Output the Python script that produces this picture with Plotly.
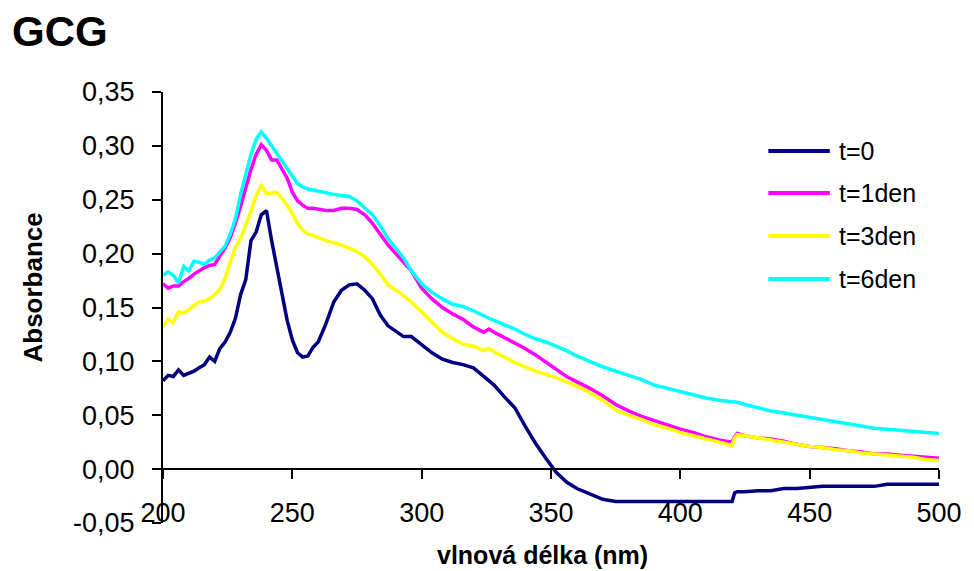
import plotly.graph_objects as go

wavelength = [200, 202, 204, 206, 208, 210, 212, 214, 216, 218, 220, 222, 224, 226, 228, 230,
              232, 234, 236, 238, 240, 242, 244, 246, 248, 250, 252, 254, 256, 258, 260, 263,
              266, 269, 272, 275, 278, 281, 284, 287, 290, 293, 296, 300, 304, 308, 312, 316,
              320, 324, 326, 328, 332, 336, 340, 344, 348, 352, 356, 360, 365, 370, 375, 380,
              385, 390, 395, 400, 405, 410, 415, 419, 420, 421, 422, 425, 430, 435, 440, 445,
              450, 455, 460, 465, 470, 475, 480, 485, 490, 495, 500]

t0 = [0.082, 0.087, 0.086, 0.092, 0.087, 0.089, 0.091, 0.094, 0.097, 0.104, 0.100, 0.112, 0.118, 0.127, 0.140, 0.162,
      0.176, 0.212, 0.220, 0.236, 0.240, 0.212, 0.188, 0.165, 0.138, 0.120, 0.108, 0.104, 0.105, 0.113, 0.118, 0.135,
      0.155, 0.166, 0.171, 0.172, 0.166, 0.158, 0.143, 0.133, 0.128, 0.123, 0.123, 0.116, 0.108, 0.102, 0.099, 0.097,
      0.094, 0.086, 0.082, 0.078, 0.067, 0.057, 0.040, 0.024, 0.010, -0.003, -0.012, -0.018, -0.023, -0.028, -0.030, -0.030,
      -0.030, -0.030, -0.030, -0.030, -0.030, -0.030, -0.030, -0.030, -0.030, -0.022, -0.021, -0.021, -0.020, -0.020, -0.018, -0.018,
      -0.017, -0.016, -0.016, -0.016, -0.016, -0.016, -0.014, -0.014, -0.014, -0.014, -0.014]

t1 = [0.172, 0.168, 0.170, 0.170, 0.174, 0.177, 0.181, 0.184, 0.187, 0.189, 0.190, 0.198, 0.205, 0.215, 0.228, 0.244,
      0.262, 0.278, 0.292, 0.301, 0.296, 0.287, 0.287, 0.279, 0.270, 0.257, 0.249, 0.245, 0.242, 0.242, 0.241, 0.240,
      0.240, 0.242, 0.242, 0.241, 0.236, 0.228, 0.218, 0.208, 0.200, 0.192, 0.184, 0.168, 0.158, 0.150, 0.144, 0.139,
      0.132, 0.127, 0.130, 0.127, 0.122, 0.117, 0.112, 0.106, 0.099, 0.093, 0.086, 0.081, 0.075, 0.068, 0.060, 0.054,
      0.049, 0.045, 0.041, 0.037, 0.034, 0.030, 0.027, 0.025, 0.025, 0.030, 0.033, 0.031, 0.029, 0.028, 0.026, 0.023,
      0.021, 0.020, 0.019, 0.017, 0.016, 0.014, 0.014, 0.013, 0.012, 0.011, 0.010]

t3 = [0.132, 0.139, 0.136, 0.146, 0.145, 0.148, 0.152, 0.155, 0.156, 0.158, 0.162, 0.167, 0.177, 0.192, 0.206, 0.214,
      0.226, 0.239, 0.254, 0.263, 0.256, 0.256, 0.257, 0.251, 0.245, 0.237, 0.228, 0.222, 0.218, 0.217, 0.215, 0.212,
      0.210, 0.208, 0.205, 0.202, 0.197, 0.190, 0.181, 0.171, 0.166, 0.161, 0.155, 0.146, 0.136, 0.127, 0.121, 0.116,
      0.114, 0.110, 0.112, 0.109, 0.104, 0.099, 0.095, 0.091, 0.088, 0.085, 0.081, 0.077, 0.071, 0.064, 0.055, 0.050,
      0.046, 0.041, 0.038, 0.034, 0.031, 0.028, 0.025, 0.022, 0.022, 0.029, 0.032, 0.031, 0.029, 0.027, 0.025, 0.023,
      0.021, 0.020, 0.018, 0.017, 0.015, 0.014, 0.013, 0.012, 0.011, 0.009, 0.008]

t6 = [0.180, 0.183, 0.180, 0.173, 0.188, 0.184, 0.193, 0.192, 0.190, 0.194, 0.196, 0.201, 0.207, 0.218, 0.232, 0.255,
      0.275, 0.292, 0.306, 0.313, 0.307, 0.300, 0.293, 0.285, 0.278, 0.271, 0.265, 0.262, 0.260, 0.259, 0.258, 0.256,
      0.255, 0.254, 0.253, 0.249, 0.243, 0.236, 0.226, 0.214, 0.205, 0.196, 0.184, 0.172, 0.164, 0.158, 0.153, 0.151,
      0.147, 0.142, 0.140, 0.138, 0.134, 0.130, 0.125, 0.121, 0.118, 0.114, 0.110, 0.105, 0.100, 0.095, 0.091, 0.087,
      0.083, 0.078, 0.075, 0.072, 0.069, 0.066, 0.064, 0.063, 0.062, 0.062, 0.062, 0.060, 0.057, 0.054, 0.052, 0.050,
      0.048, 0.046, 0.044, 0.042, 0.040, 0.038, 0.037, 0.036, 0.035, 0.034, 0.033]

series_names = ["t=0", "t=1den", "t=3den", "t=6den"]
series_values = [t0, t1, t3, t6]
series_colors = ["#000080", "#FF00FF", "#FFFF00", "#00FFFF"]

x_tick_vals = [200, 250, 300, 350, 400, 450, 500]
y_tick_vals = [-0.05, 0.0, 0.05, 0.10, 0.15, 0.20, 0.25, 0.30, 0.35]
y_tick_text = ["-0,05", "0,00", "0,05", "0,10", "0,15", "0,20", "0,25", "0,30", "0,35"]

FONT = "Liberation Sans, Arial, sans-serif"

fig = go.Figure()
for name, vals, col in zip(series_names, series_values, series_colors):
    fig.add_trace(go.Scatter(x=wavelength, y=vals, mode="lines", name=name,
                             line=dict(color=col, width=3.5), showlegend=False))

# Manual legend (long line samples like the original)
leg_y = [0.8631, 0.7657, 0.6659, 0.5661]
for name, col, yy in zip(series_names, series_colors, leg_y):
    fig.add_shape(type="line", xref="paper", yref="paper", x0=0.7801, x1=0.8593, y0=yy, y1=yy,
                  line=dict(color=col, width=4))
    fig.add_annotation(text=name, xref="paper", yref="paper", x=0.8683, y=yy, xanchor="left",
                       yanchor="middle", showarrow=False, font=dict(family=FONT, size=25, color="black"))

fig.add_annotation(text="<b>Absorbance</b>", xref="paper", yref="paper", x=-0.1688, y=0.5464,
                   textangle=-90, showarrow=False, xanchor="center", yanchor="middle",
                   font=dict(family=FONT, size=26, color="black"))
fig.add_annotation(text="<b>vlnová délka (nm)</b>", xref="paper", yref="paper", x=0.4885, y=-0.074,
                   showarrow=False, xanchor="center", yanchor="middle",
                   font=dict(family=FONT, size=25, color="black"))

fig.update_layout(
    width=974, height=571,
    margin=dict(l=163, r=29, t=92, b=48),
    paper_bgcolor="white", plot_bgcolor="white",
    title=dict(text="<b>GCG</b>", xref="container", yref="container", x=0.0123, y=0.9457,
               xanchor="left", yanchor="middle", font=dict(family=FONT, size=42, color="black")),
    xaxis=dict(range=[200, 500], tickvals=x_tick_vals, showgrid=False, zeroline=False,
               showline=True, linecolor="black", linewidth=2,
               ticks="outside", ticklen=9, tickwidth=2, tickcolor="black",
               anchor="free", position=0.125, ticklabelstandoff=10,
               tickfont=dict(family=FONT, size=27, color="black")),
    yaxis=dict(range=[-0.05, 0.35], tickvals=y_tick_vals, ticktext=y_tick_text,
               showgrid=False, zeroline=False,
               showline=True, linecolor="black", linewidth=2,
               ticks="outside", ticklen=9, tickwidth=2, tickcolor="black",
               ticklabelstandoff=12,
               tickfont=dict(family=FONT, size=27, color="black")),
)

fig.write_html("out.html", config={"displayModeBar": False},
               post_script="document.body.style.margin='0';document.body.style.overflow='hidden';")
